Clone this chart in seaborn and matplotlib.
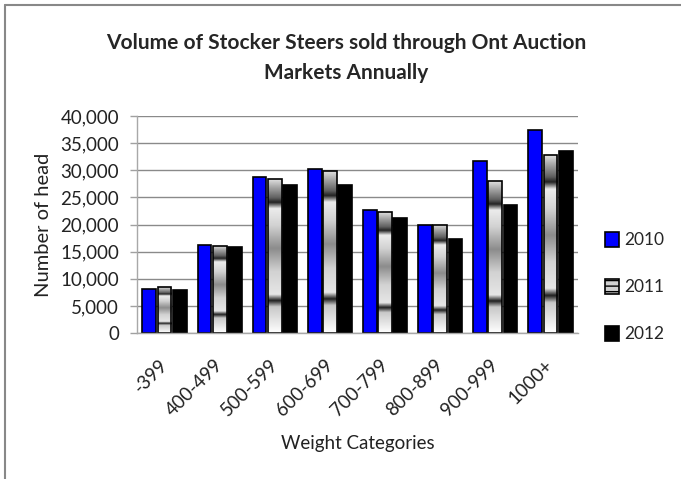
import numpy as np
import pandas as pd
import matplotlib
matplotlib.use('Agg')
import matplotlib.pyplot as plt
import seaborn as sns
from matplotlib.colors import LinearSegmentedColormap
from matplotlib.patches import Patch
from matplotlib.lines import Line2D

# values
categories = ['-399', '400-499', '500-599', '600-699', '700-799', '800-899', '900-999', '1000+']
years = ['2010', '2011', '2012']
vol_2010 = [8050, 16150, 28700, 30150, 22600, 20000, 31750, 37350]
vol_2011 = [8400, 16050, 28350, 29850, 22250, 20000, 28000, 32750]
vol_2012 = [7950, 15850, 27300, 27300, 21250, 17350, 23600, 33550]
yticks = list(range(0, 40001, 5000))

df = pd.DataFrame({
    'Weight Categories': categories * 3,
    'year': [y for y in years for _ in categories],
    'head': vol_2010 + vol_2011 + vol_2012,
})

sns.set_style('white')
plt.rcParams['font.family'] = ['Lato', 'DejaVu Sans']

fig = plt.figure(figsize=(6.81, 4.79), dpi=100)
ax = fig.add_axes([137 / 681, 1 - 333 / 479, 441 / 681, 217 / 479])

sns.barplot(data=df, x='Weight Categories', y='head', hue='year',
            palette=['#0000ff', '#c8c8c8', '#000000'], saturation=1,
            width=0.83, gap=0.1, edgecolor='black', linewidth=1.2,
            legend=False, ax=ax)

# chrome-like gradient on the 2011 bars
chrome = LinearSegmentedColormap.from_list('chrome', [
    (0.00, '#ffffff'), (0.17, '#c8c8c8'), (0.21, '#1e1e1e'), (0.25, '#e6e6e6'),
    (0.40, '#d2d2d2'), (0.55, '#8c8c8c'), (0.70, '#d2d2d2'), (0.81, '#ececec'),
    (0.85, '#222222'), (0.88, '#606060'), (0.95, '#a8a8a8'), (1.00, '#e0e0e0')])
grad = np.linspace(0, 1, 256).reshape(-1, 1)
for p in ax.containers[1]:
    x0, y0 = p.get_x(), p.get_y()
    w, h = p.get_width(), p.get_height()
    im = ax.imshow(grad, cmap=chrome, origin='lower', aspect='auto',
                   extent=[x0, x0 + w, y0, y0 + h], zorder=p.get_zorder() - 0.01)
    im.set_clip_path(p)
    p.set_facecolor('none')

ax.set_xlim(-0.5, len(categories) - 0.5)
ax.set_ylim(0, 40000)
ax.set_yticks(yticks)
ax.set_yticklabels([f'{v:,}' for v in yticks], fontsize=13.5, color='#222222')
ax.yaxis.grid(True, color='#8a8a8a', linewidth=1)
ax.set_axisbelow(True)

ax.set_xticks(range(len(categories)))
ax.set_xticklabels(categories, rotation=45, ha='right', va='center',
                   rotation_mode='anchor', fontsize=13.5, color='#222222')
ax.set_xticks(np.arange(-0.5, len(categories)), minor=True)
ax.tick_params(axis='x', which='major', length=0, pad=21)
ax.tick_params(axis='x', which='minor', length=5, color='#a0a0a0', width=1)
ax.tick_params(axis='y', length=5, color='#a0a0a0', width=1, left=True, pad=8)

for s in ['top', 'right']:
    ax.spines[s].set_visible(False)
for s in ['left', 'bottom']:
    ax.spines[s].set_color('#a8a8a8')
    ax.spines[s].set_linewidth(1)

ax.set_xlabel('Weight Categories', fontsize=13.5, color='#222222', labelpad=11)
ax.set_ylabel('Number of head', fontsize=14.5, color='#222222', labelpad=6)

fig.text(346 / 681, 1 - 43 / 479, 'Volume of Stocker Steers sold through Ont Auction',
         ha='center', va='center', fontsize=15, fontweight='bold')
fig.text(346 / 681, 1 - 73 / 479, 'Markets Annually',
         ha='center', va='center', fontsize=15, fontweight='bold')

handles = [Patch(facecolor='#0000ff', edgecolor='black', linewidth=1.2),
           Patch(facecolor='#d0d0d0', edgecolor='black', linewidth=1.2, hatch='---'),
           Patch(facecolor='#000000', edgecolor='black', linewidth=1.2)]
fig.legend(handles, years, loc='center left', bbox_to_anchor=(598 / 681, 1 - 287 / 479),
           frameon=False, fontsize=12.5, handlelength=0.8, handleheight=1.0,
           handletextpad=0.3, labelspacing=1.75, borderaxespad=0)

# outer frame lines (top and left only)
fig.add_artist(Line2D([4.5 / 681, 1], [1 - 5 / 479, 1 - 5 / 479], color='#888888', linewidth=1.5))
fig.add_artist(Line2D([4.5 / 681, 4.5 / 681], [0, 1 - 5 / 479], color='#888888', linewidth=1.5))

fig.savefig('out.png', dpi=100)
